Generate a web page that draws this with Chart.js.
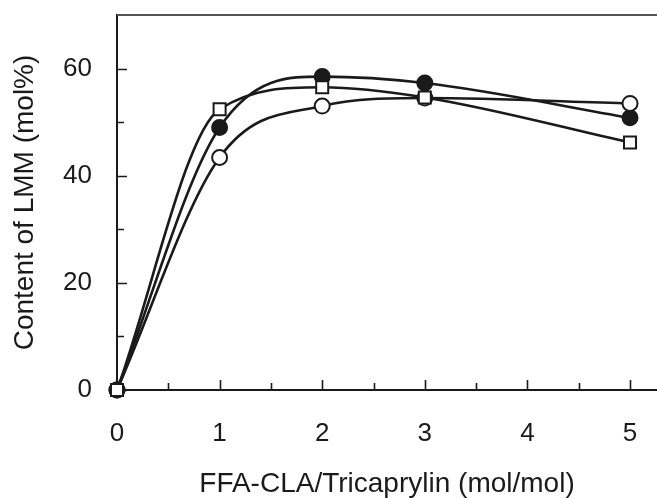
<!DOCTYPE html>
<html>
<head>
<meta charset="utf-8">
<script src="https://cdn.jsdelivr.net/npm/chart.js@4"></script>
<style>
  html, body { margin: 0; padding: 0; background: #fff; }
  #chart { display: block; }
</style>
</head>
<body>
<canvas id="chart" width="657" height="498"></canvas>
<script>
const xValues = [0, 1, 2, 3, 5];
const filledCircle = [0, 49.0, 58.5, 57.3, 50.8];
const openCircle = [0, 43.4, 53.0, 54.5, 53.5];
const openSquare = [0, 52.4, 56.5, 54.6, 46.2];

const xTicks = [0, 1, 2, 3, 4, 5];
const xMinor = [0.5, 1.5, 2.5, 3.5, 4.5];
const yTicks = [0, 20, 40, 60];
const yMinor = [10, 30, 50];

const ink = "#1a1a1a";
const toPoints = ys => ys.map((y, i) => ({ x: xValues[i], y }));

// inward tick marks + the grey top line
const frame = {
  id: "frame",
  beforeDatasetsDraw(chart) {
    const { ctx, chartArea: a, scales: { x, y } } = chart;
    ctx.save();
    ctx.strokeStyle = ink;
    ctx.lineWidth = 1.6;
    ctx.beginPath();
    yTicks.concat(yMinor).forEach(v => {
      const py = Math.round(y.getPixelForValue(v)) + 0.5;
      const len = yTicks.includes(v) ? 10 : 7;
      ctx.moveTo(a.left, py);
      ctx.lineTo(a.left + len, py);
    });
    xTicks.concat(xMinor).forEach(v => {
      const px = Math.round(x.getPixelForValue(v)) + 0.5;
      const len = xTicks.includes(v) ? 10 : 7;
      ctx.moveTo(px, a.bottom);
      ctx.lineTo(px, a.bottom - len);
    });
    ctx.stroke();
    ctx.strokeStyle = "#555";
    ctx.lineWidth = 2;
    ctx.beginPath();
    ctx.moveTo(a.left, a.top);
    ctx.lineTo(a.right, a.top);
    ctx.stroke();
    ctx.restore();
  }
};

const lineStyle = {
  borderColor: ink,
  borderWidth: 2.6,
  cubicInterpolationMode: "monotone",
  clip: false,
  pointBorderColor: ink,
  pointBorderWidth: 2,
  pointHoverRadius: 7
};

new Chart(document.getElementById("chart"), {
  type: "line",
  data: {
    datasets: [
      { ...lineStyle, label: "square", data: toPoints(openSquare),
        pointStyle: "rect", pointRadius: 8.5, pointBackgroundColor: "#fff" },
      { ...lineStyle, label: "open", data: toPoints(openCircle),
        pointStyle: "circle", pointRadius: 7.5, pointBackgroundColor: "#fff" },
      { ...lineStyle, label: "filled", data: toPoints(filledCircle),
        pointStyle: "circle", pointRadius: 7.5, pointBackgroundColor: ink }
    ]
  },
  options: {
    responsive: false,
    animation: false,
    devicePixelRatio: 1,
    layout: { autoPadding: false, padding: { top: 15, right: 0, left: 0, bottom: 0 } },
    plugins: { legend: { display: false }, tooltip: { enabled: false } },
    scales: {
      x: {
        type: "linear",
        min: 0,
        max: 5.263,
        grid: { display: false, drawTicks: false },
        border: { display: true, color: ink, width: 2 },
        afterBuildTicks: s => { s.ticks = xTicks.map(v => ({ value: v })); },
        afterFit: s => { s.height = 108; s.paddingLeft = 0; s.paddingRight = 0; },
        ticks: {
          padding: 28,
          maxRotation: 0,
          color: ink,
          font: { family: "'Liberation Sans', Arial, sans-serif", size: 26 }
        },
        title: {
          display: true,
          text: "FFA-CLA/Tricaprylin (mol/mol)",
          color: ink,
          padding: 0,
          font: { family: "'Liberation Sans', Arial, sans-serif", size: 28, lineHeight: 1 }
        }
      },
      y: {
        min: 0,
        max: 70,
        grid: { display: false, drawTicks: false },
        border: { display: true, color: ink, width: 2 },
        afterBuildTicks: s => { s.ticks = yTicks.map(v => ({ value: v })); },
        afterFit: s => { s.width = 117; s.paddingTop = 0; s.paddingBottom = 0; },
        ticks: {
          padding: 25,
          color: ink,
          font: { family: "'Liberation Sans', Arial, sans-serif", size: 26 }
        },
        title: {
          display: true,
          text: "Content of LMM (mol%)",
          color: ink,
          padding: { top: 8, bottom: 0 },
          font: { family: "'Liberation Sans', Arial, sans-serif", size: 28, lineHeight: 1.2 }
        }
      }
    }
  },
  plugins: [frame]
});
</script>
</body>
</html>
